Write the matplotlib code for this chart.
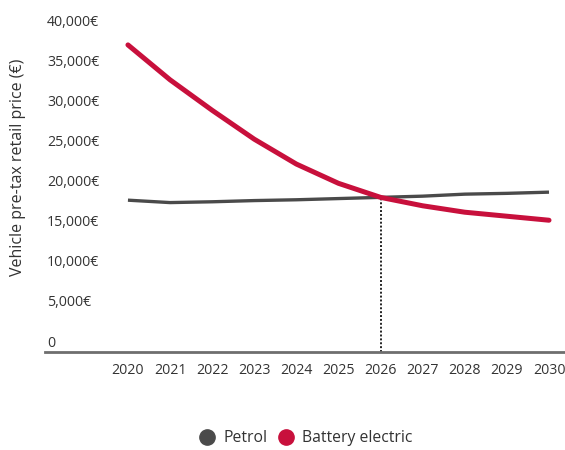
import matplotlib
matplotlib.use("Agg")
import matplotlib.pyplot as plt
from matplotlib.lines import Line2D

plt.rcParams['font.family'] = ['Open Sans', 'DejaVu Sans']

years = [2020, 2021, 2022, 2023, 2024, 2025, 2026, 2027, 2028, 2029, 2030]
petrol = [17800, 17500, 17600, 17750, 17850, 18000, 18150, 18300, 18550, 18650, 18800]
battery = [37150, 32800, 29000, 25400, 22300, 19900, 18150, 17100, 16300, 15800, 15300]
ytick_values = [0, 5000, 10000, 15000, 20000, 25000, 30000, 35000, 40000]
ytick_labels = ['0', '5,000€', '10,000€', '15,000€', '20,000€', '25,000€', '30,000€', '35,000€', '40,000€']
cross_year = 2026
cross_price = 18150

PETROL_C = '#4a4a4a'
BEV_C = '#c8103c'
TEXT_C = '#333333'

fig = plt.figure(figsize=(5.65, 4.5), dpi=100)
ax = fig.add_axes([45/565, (450-352)/450, 1 - 45/565, (352-10)/450])

ax.plot(years, petrol, color=PETROL_C, lw=2.4, solid_capstyle='butt', solid_joinstyle='round', zorder=3)
ax.plot(years, battery, color=BEV_C, lw=3.6, solid_capstyle='round', solid_joinstyle='round', zorder=4)
ax.vlines(cross_year, -1121, cross_price, colors='#222222', linestyles=(0, (1, 1)), lw=1.4, zorder=2)

ax.set_xlim(2018.03, 2030.38)
ax.set_ylim(-1121, 41500)

for s in ['top', 'right', 'left']:
    ax.spines[s].set_visible(False)
ax.spines['bottom'].set_color('#6e6e6e')
ax.spines['bottom'].set_linewidth(2)

ax.set_yticks([])
for v, lab in zip(ytick_values, ytick_labels):
    ax.text(2018.08, v, lab, ha='left', va='center', fontsize=10.2, color=TEXT_C)

ax.set_xticks(years)
ax.set_xticklabels([str(y) for y in years], fontsize=10.2, color=TEXT_C)
ax.tick_params(axis='x', length=0, pad=8)

fig.text(18/565, 1 - 167.5/450, 'Vehicle pre-tax retail price (€)', rotation=90,
         ha='center', va='center', fontsize=11.5, color=TEXT_C)

handles = [Line2D([], [], marker='o', ls='none', markersize=11, color=PETROL_C),
           Line2D([], [], marker='o', ls='none', markersize=11, color=BEV_C)]
fig.legend(handles, ['Petrol', 'Battery electric'], loc='center', bbox_to_anchor=(305/565, 1 - 438/450),
           ncol=2, frameon=False, fontsize=11.3, handletextpad=0.45, columnspacing=0.6,
           handlelength=1.2, labelcolor=TEXT_C)

fig.savefig('out.png', dpi=100, facecolor='white')
